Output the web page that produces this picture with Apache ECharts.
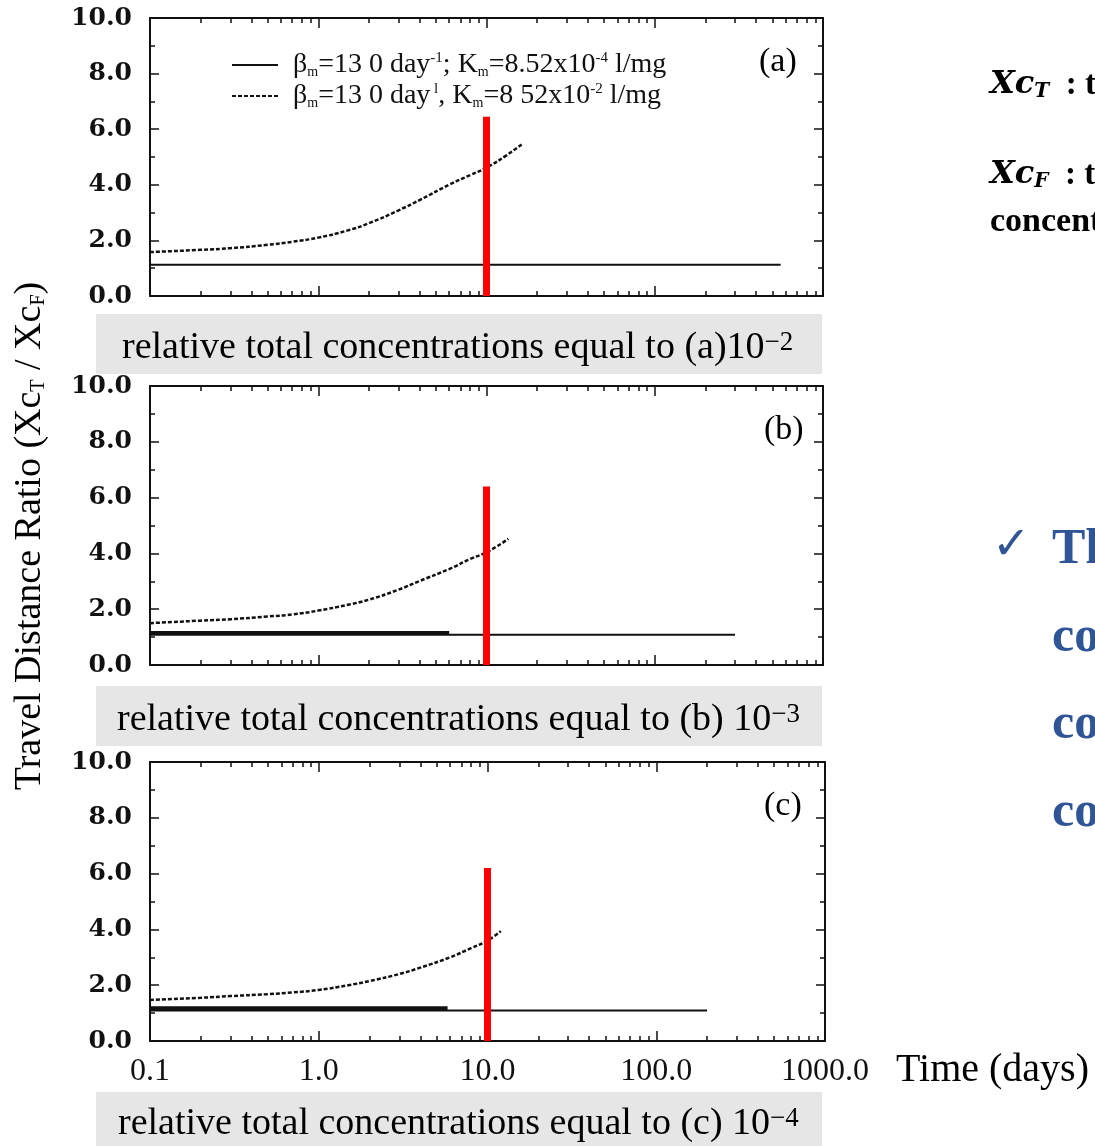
<!DOCTYPE html>
<html>
<head>
<meta charset="utf-8">
<script src="https://cdn.jsdelivr.net/npm/echarts@6/dist/echarts.min.js"></script>
<style>
  html, body { margin: 0; padding: 0; background: #fff; }
  #chart { width: 1095px; height: 1146px; }
</style>
</head>
<body>
<div id="chart"></div>
<script>
// axis ticks
const timeTicks = [0.1, 1, 10, 100, 1000];
const minorTimeTicks = [0.2, 0.3, 0.4, 0.5, 0.6, 0.7, 0.8, 0.9,
  2, 3, 4, 5, 6, 7, 8, 9, 20, 30, 40, 50, 60, 70, 80, 90,
  200, 300, 400, 500, 600, 700, 800, 900];

// (a) relative total concentration 10^-2
const solidTimeA = [0.1, 560];
const solidRatioA = [1.12, 1.12];
const dashTimeA = [0.1, 0.2, 0.3, 0.5, 0.7, 1.0, 1.5, 2.0, 3.0, 4.0, 6.0, 8.0, 10.0, 13.0, 16.5];
const dashRatioA = [1.58, 1.66, 1.72, 1.84, 1.95, 2.1, 2.36, 2.62, 3.08, 3.45, 4.0, 4.35, 4.62, 5.04, 5.49];

// (b) 10^-3
const solidTimeB = [0.1, 300];
const solidRatioB = [1.08, 1.08];
const thickTimeB = [0.1, 6];
const thickRatioB = [1.15, 1.15];
const dashTimeB = [0.1, 0.2, 0.3, 0.5, 0.7, 1.0, 1.5, 2.0, 3.0, 4.0, 6.0, 8.0, 10.0, 13.5];
const dashRatioB = [1.5, 1.59, 1.64, 1.74, 1.81, 1.95, 2.16, 2.34, 2.7, 3.01, 3.44, 3.8, 4.04, 4.52];

// (c) 10^-4
const solidTimeC = [0.1, 200];
const solidRatioC = [1.09, 1.09];
const thickTimeC = [0.1, 5.8];
const thickRatioC = [1.17, 1.17];
const dashTimeC = [0.1, 0.2, 0.3, 0.5, 0.7, 1.0, 1.5, 2.0, 3.0, 4.0, 6.0, 8.0, 10.0, 12.0];
const dashRatioC = [1.47, 1.55, 1.61, 1.68, 1.74, 1.83, 2.0, 2.15, 2.4, 2.63, 3.0, 3.33, 3.6, 3.94];

// red marker at 10 days
const markTime = 10;
const markTop = [6.45, 6.4, 6.2];

const solidName = 'Km=8.52x10-4';
const dashName = 'Km=8.52x10-2';

const grids = [
  { left: 150, top: 18, width: 673, height: 278 },
  { left: 150, top: 386, width: 673, height: 279 },
  { left: 150, top: 762, width: 675, height: 279 }
];

const ink = '#111';
const pairs = (xs, ys) => xs.map((x, i) => [x, ys[i]]);

function timeAxis(p, pos, minor, labels) {
  return {
    type: 'log', logBase: 10, gridIndex: p, min: 0.1, max: 1000, position: pos,
    axisLine: { show: !minor, lineStyle: { color: ink, width: 2 } },
    axisTick: {
      show: true, inside: true, length: minor ? 5 : 10,
      customValues: minor ? minorTimeTicks : timeTicks,
      lineStyle: { color: ink, width: 1.5 }
    },
    axisLabel: {
      show: labels, customValues: timeTicks, margin: 15,
      fontFamily: 'Liberation Serif', fontSize: 32, color: ink,
      formatter: v => Number(v).toFixed(1)
    },
    splitLine: { show: false }
  };
}

function ratioAxis(p, pos, labels) {
  return {
    type: 'value', gridIndex: p, min: 0, max: 10, interval: 2, position: pos,
    axisLine: { show: true, lineStyle: { color: ink, width: 2 } },
    axisTick: { show: true, inside: true, length: 9, lineStyle: { color: ink, width: 1.5 } },
    minorTick: { show: true, splitNumber: 2, length: 5, lineStyle: { color: ink, width: 1.5 } },
    axisLabel: {
      show: labels, margin: 18, fontFamily: 'DejaVu Serif', fontWeight: 'bold',
      fontSize: 25, color: ink, formatter: v => v.toFixed(1)
    },
    splitLine: { show: false }
  };
}

const xAxes = [], yAxes = [];
grids.forEach((g, p) => {
  xAxes.push(timeAxis(p, 'bottom', false, p === 2));
  xAxes.push(timeAxis(p, 'bottom', true, false));
  xAxes.push(timeAxis(p, 'top', false, false));
  xAxes.push(timeAxis(p, 'top', true, false));
  yAxes.push(ratioAxis(p, 'left', true));
  yAxes.push(ratioAxis(p, 'right', false));
});

function lineSeries(p, name, data, width, dashed) {
  return {
    name: name, type: 'line', xAxisIndex: p * 4, yAxisIndex: p * 2,
    data: data, symbol: 'none', smooth: dashed ? 0.5 : false,
    lineStyle: { color: ink, width: width, type: dashed ? [4, 2] : 'solid' },
    itemStyle: { color: ink }, z: 3
  };
}

function markSeries(p) {
  return {
    name: 'marker', type: 'line', xAxisIndex: p * 4, yAxisIndex: p * 2,
    data: [[markTime, 0], [markTime, markTop[p]]], symbol: 'none',
    lineStyle: { color: '#ff0000', width: 7 }, z: 5
  };
}

const series = [
  lineSeries(0, solidName, pairs(solidTimeA, solidRatioA), 2, false),
  lineSeries(0, dashName, pairs(dashTimeA, dashRatioA), 2.5, true),
  markSeries(0),
  lineSeries(1, solidName, pairs(solidTimeB, solidRatioB), 2, false),
  lineSeries(1, solidName, pairs(thickTimeB, thickRatioB), 4, false),
  lineSeries(1, dashName, pairs(dashTimeB, dashRatioB), 2.5, true),
  markSeries(1),
  lineSeries(2, solidName, pairs(solidTimeC, solidRatioC), 2, false),
  lineSeries(2, solidName, pairs(thickTimeC, thickRatioC), 4, false),
  lineSeries(2, dashName, pairs(dashTimeC, dashRatioC), 2.5, true),
  markSeries(2)
];

const legendText = {};
legendText[solidName] = '{t|β}{s|m}{t|=13 0 day}{p|-1}{t|; K}{s|m}{t|=8.52x10}{p|-4}{t| l/mg}';
legendText[dashName] = '{t|β}{s|m}{t|=13 0 day}{p| l}{t|, K}{s|m}{t|=8 52x10}{p|-2}{t| l/mg}';

const serif = 'Liberation Serif';
const boxRich = {
  t: { fontFamily: serif, fontSize: 38, color: '#000' },
  p: { fontFamily: serif, fontSize: 27, color: '#000', verticalAlign: 'top' }
};

function boxText(x, y, txt) {
  return {
    type: 'text', x: x, y: y, z: 2,
    style: { text: txt, rich: boxRich, verticalAlign: 'middle', align: 'left' }
  };
}

function plainText(x, y, txt, size, extra) {
  return {
    type: 'text', x: x, y: y, z: 2,
    style: Object.assign({ text: txt, fontFamily: serif, fontSize: size, fill: '#000',
      verticalAlign: 'middle', align: 'left' }, extra || {})
  };
}

const blue = '#2f5597';
const defRich = {
  i: { fontFamily: 'DejaVu Serif', fontStyle: 'italic', fontWeight: 'bold', fontSize: 32, color: '#000' },
  s: { fontFamily: 'DejaVu Serif', fontStyle: 'italic', fontWeight: 'bold', fontSize: 20, color: '#000', verticalAlign: 'bottom' },
  b: { fontFamily: serif, fontWeight: 'bold', fontSize: 33, color: '#000' }
};

const graphics = [
  { type: 'rect', z: 1, shape: { x: 96, y: 314, width: 726, height: 60 }, style: { fill: '#e7e6e6' } },
  { type: 'rect', z: 1, shape: { x: 96, y: 686, width: 726, height: 60 }, style: { fill: '#e7e6e6' } },
  { type: 'rect', z: 1, shape: { x: 96, y: 1092, width: 726, height: 60 }, style: { fill: '#e7e6e6' } },
  boxText(122, 348, '{t|relative total concentrations equal to (a)10}{p|−2}'),
  boxText(117, 720, '{t|relative total concentrations equal to (b) 10}{p|−3}'),
  boxText(118, 1124, '{t|relative total concentrations equal to (c) 10}{p|−4}'),
  plainText(759, 62, '(a)', 34),
  plainText(764, 430, '(b)', 34),
  plainText(764, 806, '(c)', 34),
  plainText(896, 1070, 'Time (days)', 40),
  {
    type: 'text', x: 30, y: 536, rotation: Math.PI / 2, z: 2,
    style: {
      text: '{t|Travel Distance Ratio (Xc}{s|T}{t| / Xc}{s|F}{t|)}',
      align: 'center', verticalAlign: 'middle',
      rich: {
        t: { fontFamily: serif, fontSize: 38, color: '#000' },
        s: { fontFamily: serif, fontSize: 20, color: '#000', verticalAlign: 'bottom' }
      }
    }
  },
  {
    type: 'text', x: 990, y: 85, z: 2,
    style: { text: '{i|Xc}{s|T}{b|  : travel distance of total}', rich: defRich, verticalAlign: 'middle' }
  },
  {
    type: 'text', x: 990, y: 175, z: 2,
    style: { text: '{i|Xc}{s|F}{b|  : travel distance of free}', rich: defRich, verticalAlign: 'middle' }
  },
  plainText(990, 222, 'concentration', 34, { fontWeight: 'bold' }),
  plainText(992, 547, '✓', 46, { fontFamily: 'DejaVu Sans', fill: blue }),
  plainText(1052, 550, 'The', 50, { fontWeight: 'bold', fill: blue }),
  plainText(1052, 638, 'con', 50, { fontWeight: 'bold', fill: blue }),
  plainText(1052, 725, 'con', 50, { fontWeight: 'bold', fill: blue }),
  plainText(1052, 813, 'con', 50, { fontWeight: 'bold', fill: blue })
];

const chart = echarts.init(document.getElementById('chart'));
chart.setOption({
  backgroundColor: '#fff',
  animation: false,
  grid: grids,
  xAxis: xAxes,
  yAxis: yAxes,
  legend: {
    data: [solidName, dashName],
    orient: 'vertical', left: 226, top: 46,
    itemWidth: 46, itemHeight: 14, itemGap: 3, selectedMode: false,
    itemStyle: { opacity: 0, borderWidth: 0 },
    formatter: n => legendText[n],
    textStyle: {
      padding: [0, 0, 0, 10],
      rich: {
        t: { fontFamily: serif, fontSize: 28, color: ink },
        s: { fontFamily: serif, fontSize: 14, color: ink, verticalAlign: 'bottom' },
        p: { fontFamily: serif, fontSize: 15, color: ink, verticalAlign: 'top' }
      }
    }
  },
  graphic: graphics,
  series: series
});
</script>
</body>
</html>
